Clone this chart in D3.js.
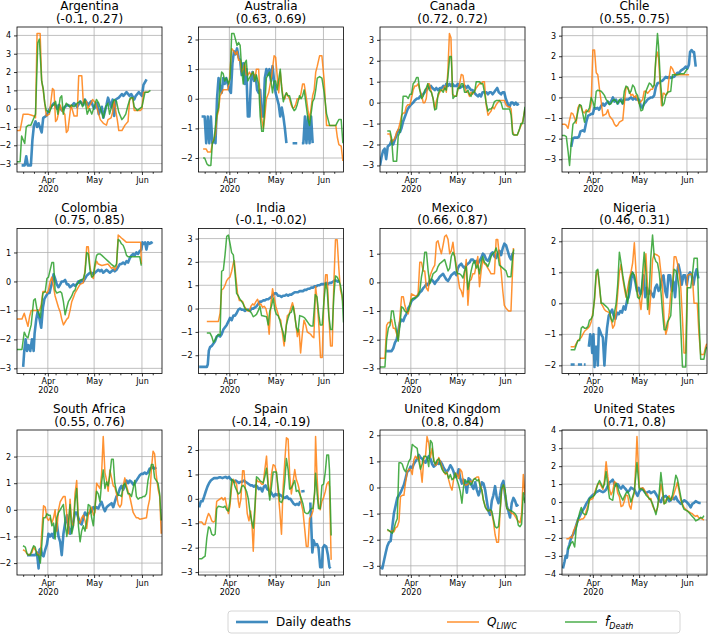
<!DOCTYPE html>
<html>
<head>
<meta charset="utf-8">
<script src="https://cdn.jsdelivr.net/npm/d3@7"></script>
<style>
body { margin: 0; background: #fff; }
svg { font-family: "DejaVu Sans", sans-serif; }
</style>
</head>
<body>
<svg id="chart" width="708" height="637"></svg>
<script>
// day = days after 1 Mar 2020, value = z-score. null marks a gap.
var countries = ["Argentina", "Australia", "Canada", "Chile", "Colombia", "India", "Mexico", "Nigeria",
    "South Africa", "Spain", "United Kingdom", "United States"]
var corrLabels = ["(-0.1, 0.27)", "(0.63, 0.69)", "(0.72, 0.72)", "(0.55, 0.75)", "(0.75, 0.85)", "(-0.1, -0.02)",
    "(0.66, 0.87)", "(0.46, 0.31)", "(0.55, 0.76)", "(-0.14, -0.19)", "(0.8, 0.84)", "(0.71, 0.8)"]
var xStartDay = 11, xEndDay = 105

var argentinaDeaths = [[14,-3.1],[16,-3.1],[17,-2.6],[18,-3.1],[20,-3.1],[21,-1.7],[22,-0.9],[23,-0.7],[24,-1.0],[25,-0.8],[27,-1.3],[28,-0.5],[30,-0.4],[31,-0.2],[33,0.1],[35,0.3],[37,0],[38,0.2],[40,-0.1],[42,0.1],[44,0.2],[46,0.1],[48,0.3],[50,0.1],[52,0.4],[54,0.2],[55,0.5],[57,0.2],[59,0.4],[61,0],[63,0.3],[64,-0.3],[66,0.1],[67,-0.5],[69,0.2],[70,0.6],[72,0.1],[73,0.5],[74,-0.4],[75,0.5],[77,0.6],[79,0.8],[80,0.7],[82,0.9],[84,0.7],[85,0.8],[87,0.5],[88,0.7],[90,0.9],[92,0.7],[93,1.3],[95,1.6]]
var argentinaLiwc = [[11,-1.2],[13,-1.2],[15,-0.3],[18,-0.3],[20,-0.35],[22,-0.4],[23,-0.5],[24,4.1],[26,4.1],[27,1.5],[28,1.0],[29,0.3],[30,-0.4],[32,-0.3],[34,1.1],[35,1.0],[36,-0.7],[37,-0.6],[39,0.2],[40,-0.1],[42,-0.3],[43,-1.3],[44,-1.2],[46,0.2],[48,-0.4],[50,-0.4],[51,1.8],[53,1.8],[54,0.3],[56,0.4],[57,0],[59,0.3],[60,0.5],[62,0.3],[64,-0.3],[65,-0.6],[67,-0.8],[69,-0.9],[70,-0.6],[72,-0.5],[73,-0.2],[74,0.4],[76,-0.6],[77,-1.2],[79,-1.2],[81,-0.9],[83,-0.7],[84,0.5],[86,0.6],[87,-0.1],[91,-0.1],[92,0],[93,0.9],[96,0.9]]
var argentinaFdeath = [[11,-2.9],[13,-2.9],[14,-1.5],[16,-1.9],[17,-1.0],[18.5,-0.9],[20,-0.9],[22,-0.5],[23,-0.3],[24.5,3.6],[25.5,3.8],[27,1.5],[28,1.1],[29,0.3],[30,-0.1],[32,-0.2],[34,0.2],[35,0.2],[36,0.4],[37.5,-0.3],[39,0.6],[40,0.7],[41,-0.3],[42,0.1],[43,0.3],[45,0.1],[46.5,0.2],[48,0.1],[50,0.3],[52,0.4],[53.5,0.1],[55,0.5],[56.5,-0.3],[58,0],[59.5,-0.3],[61,0.1],[62.5,0.5],[64,0.3],[65.5,-0.1],[67,-0.5],[68.5,0.1],[70,0.3],[71,-0.3],[73,0.3],[74,0.5],[75.5,0.4],[77,-0.2],[79,-0.6],[80,-0.5],[81.5,-0.3],[83,0.2],[84.5,0.6],[86,0.6],[87,0.1],[89,-0.1],[90.5,0],[92,0.1],[94,0.9],[96,0.9],[97.5,1.0]]

var australiaDeaths = [[13,-0.6],[15,-0.6],[16,-1.5],[17,-0.6],[18,-1.5],[19,-0.6],[20,-1.5],[21,-1.4],[22,-1.5],[23,0],[24,0.7],[25,0.4],[26,0.2],[27,0.7],[28,0.5],[29,0.7],[30,0.5],[31,0.3],[32,0.2],[33,1.2],[34,1.6],[35,1.5],[36,1.7],[37,1.4],[38,1.3],[39,0.8],[40,1.2],[41,0.5],[42,1.0],[43,-0.6],[44,-0.6],[45,0.6],[46,0.9],[47,0.6],[48,0.8],[49,0.3],[50,0.2],[51,0.3],[52,-0.6],[53,-0.6],[54,0.7],[55,1.0],[56,0.8],[57,1.0],[58,0.6],[59,1.1],[60,0.6],[61,0.2],[62,0],[63,-0.2],[64,-0.6],[65,-0.3],[66,-0.6],[67,-1.0],[68,-1.5],[69,null],[72,-1.5],[75,-1.5],[76,null],[78,-1.5],[79,-1.5],[80,-0.6],[81,-1.5],[82,-0.6],[83,-1.5],[84,-0.6],[85,-1.5]]
var australiaLiwc = [[14,-1.7],[16,-1.7],[17,-1.8],[19,-1.8],[20,-1.5],[22,-1.2],[23,-0.6],[24,-0.4],[25,0.1],[27,0.3],[30,0.3],[31,0.6],[32.5,1.7],[34,1.6],[35,1.5],[36,1.6],[37,1.3],[38,1.3],[39,0.9],[40,1.0],[41,1.2],[42,0.8],[43,0.8],[44,0.9],[45,0.8],[46.5,0.9],[47.5,0.6],[48.5,1.0],[50,1.0],[51,-0.1],[52,-0.7],[53,-1.0],[54,-0.6],[55,0],[56.5,0.2],[57.5,0.5],[58.5,0.8],[60,1.45],[61,1.4],[62,0.8],[63,0.2],[64,0.9],[65,0.4],[66,0],[67,0],[68,0.2],[69,0.1],[70,0],[71,-0.2],[72,-0.3],[73,-0.3],[74,-0.2],[75,0],[76.5,0],[77.5,0.2],[78.5,0.5],[79.5,0.5],[81,0],[82,-0.4],[83,-0.7],[84,-0.3],[85,0.1],[86,0.3],[87,0.9],[88,1.1],[89.5,1.45],[91,1.45],[92.5,0.6],[94,-0.9],[100,-0.9],[101,-1.3],[102,-1.55],[103.5,-1.6],[104.6,-2.1]]
var australiaFdeath = [[14,-2.0],[15,-2.0],[16.5,-2.2],[17.5,-2.25],[19,-2.25],[20,-1.5],[21,-1.4],[23,-0.5],[24,-0.3],[25,0.5],[26,0.9],[27,0.85],[28,0.6],[29,0.7],[30.5,0.5],[31.5,0.7],[32.5,2.2],[34,2.2],[35,2.0],[36,1.8],[37,1.9],[38,1.8],[39,1.0],[40,0.5],[41,1.2],[42,1.3],[43,0.6],[44,0.7],[45,0.8],[46.5,0.9],[47.5,0.6],[48.5,0.8],[50,0.5],[51,-0.6],[52,-1.1],[53,-1.1],[54,-0.2],[55,0.7],[56,0.8],[57,0.9],[58,0.6],[59,0.2],[60,0.6],[61,0.6],[62,0.3],[64,1.0],[65,0.3],[66,-0.1],[67,0.1],[68,0.2],[69,0.1],[70,0.1],[71,-0.1],[72,-0.3],[73,-0.4],[74,-0.35],[75,-0.2],[76.5,0.1],[77.5,0],[78.5,0.1],[79.5,0.3],[81,-0.3],[82,-0.7],[83,-0.9],[84,-0.5],[85,-0.1],[86,0],[87,0.3],[88,0.7],[89.5,0.75],[91,0.7],[92.5,0.2],[94,-0.5],[96,-0.9],[100,-0.9],[101,-0.8],[102,-0.7],[103.5,-0.7],[104.6,-1.5]]

var canadaDeaths = [[11,-3.0],[12,-2.6],[13,-2.3],[14,-2.2],[15,-2.7],[16,-2.1],[17.5,-2.0],[18.5,-1.8],[19.5,-2.0],[20.5,-1.8],[22,-1.5],[23,-1.3],[24,-1.4],[25,-1.2],[26,-0.9],[27,-0.7],[28,-0.5],[29,-0.3],[30,-0.2],[31,-0.1],[32.5,0],[33.5,0.1],[35,0.2],[36,0.2],[37,0.3],[39,0.4],[40,0.5],[41,0.6],[42,0.7],[43,0.7],[44,0.8],[45,0.7],[46.5,0.6],[47.5,0.7],[48.5,0.6],[50,0.7],[51,0.7],[52,0.8],[53,0.7],[54,0.9],[55,0.8],[56,0.9],[57,0.8],[58,0.9],[59,0.8],[60.5,0.8],[61.5,0.9],[62.5,0.7],[65,0.8],[66,0.8],[67,0.7],[68,0.8],[69,0.7],[70,0.6],[71,0.6],[72,0.5],[73,0.4],[74.5,0.3],[75.5,0.4],[76.5,0.3],[77.5,0.5],[79,0.5],[80,0.5],[81,0.4],[82,0.5],[83,0.5],[84,0.4],[85,0.5],[86,0.6],[87,0.7],[88,0.5],[89.5,0.4],[90.5,0.5],[91.5,0.5],[92.5,0.2],[94,-0.1],[95,-0.2],[96,0],[97,0],[98,-0.1],[99,0],[100,-0.1],[101,-0.05]]
var canadaLiwc = [[15.7,-1.5],[17.5,-1.5],[18.5,-1.9],[19.6,-1.8],[20.7,-1.7],[21.8,-1.4],[22.8,-1.3],[23.9,-1.0],[25,-0.6],[26,-0.5],[27,-0.5],[28,-0.2],[29,-0.1],[30.4,-0.1],[31.4,0.2],[32.5,0.6],[33.6,0.8],[34.7,0.8],[35.7,0.9],[36.8,0.6],[37.9,0.4],[39,0],[40,0],[41,0.2],[42,0.9],[43,0.9],[44,0.6],[45.4,0.2],[46.5,-0.3],[47.6,0.1],[48.6,0.3],[49.7,0.5],[50.8,0.6],[52,0.6],[53,0.8],[54,0.5],[55,1.5],[56,3.3],[57,3.1],[58,0.4],[59.4,0.3],[60.5,0.3],[61.5,0.6],[62.6,0.9],[63.7,1.35],[64.8,1.3],[65.8,0.8],[67,0.5],[68,0.5],[69,0.3],[70,0.5],[71,0.4],[72,0.5],[73.4,0.7],[74.4,0.8],[75.5,0.9],[76.6,0.9],[77.7,1.0],[78.7,1.0],[79.8,-0.1],[81,-0.6],[82,-0.5],[83,-0.4],[84,-0.2],[85,-0.3],[86.3,-0.1],[87.3,0],[88.4,0.1],[91.6,0.1],[92.7,-0.1],[93.8,-0.2],[95,-0.2],[96,-0.3],[97,-1.4],[98,-1.55],[100,-1.55],[101.3,-1.3],[102.4,-1.1],[103.5,-0.9],[105,-0.3]]
var canadaFdeath = [[15.7,-1.35],[17.5,-1.35],[18.5,-1.7],[19.6,-2.8],[21.8,-2.8],[22.8,-1.6],[23.9,-1.4],[25,-0.8],[26,0.3],[28.2,0.3],[29.3,0.2],[30.4,0.4],[31.4,0.4],[32.5,0.9],[33.6,1.0],[34.7,1.2],[35.7,1.2],[36.8,0.6],[37.9,0.2],[39,0.3],[40,0.6],[41,0.7],[42,0.9],[43,0.6],[44.3,0.5],[45.4,0.2],[46.5,-0.35],[47.6,-0.3],[48.6,0.4],[49.7,0.6],[50.8,0.6],[52,0.5],[53,0.7],[54,0.6],[55,1.2],[56.2,2.2],[57.2,2.2],[58.3,0.2],[59.4,0.3],[60.5,0.3],[61.5,0.7],[62.6,0.7],[63.7,0.9],[64.8,0.9],[65.8,0.5],[67,0.5],[68,0.6],[69,0.4],[70,0.3],[71,0.5],[72.3,0.5],[73.4,1.0],[75.5,1.0],[76.6,0.9],[77.7,0.9],[78.7,0.5],[79.8,0],[81,-0.4],[82,-0.3],[83,-0.3],[84,-0.2],[85.2,0.05],[86.3,0.1],[88.4,0.1],[89.5,0],[90.6,-0.3],[95,-0.3],[96,-0.6],[97,-1.5],[98,-1.55],[100,-1.55],[101.3,-1.3],[102.4,-1.0],[103.5,-1.0],[105,-0.2]]

var chileDeaths = [[17,-2.4],[18,-2.0],[19,-1.95],[21,-1.95],[22,-1.9],[23,-1.65],[24.5,-1.6],[25.5,-1.65],[26.7,-1.2],[27.8,-0.9],[29,-0.85],[30,-0.8],[31,-0.8],[32,-0.5],[33,-0.55],[34,-0.5],[35,-0.6],[36.5,-0.4],[37.5,-0.3],[38.5,-0.4],[39.5,-0.3],[40.7,-0.2],[41.7,-0.3],[42.8,-0.2],[44,0],[45,-0.2],[46,-0.1],[47,-0.3],[48,-0.2],[49.3,-0.1],[50.3,-0.3],[51.4,-0.1],[54,-0.1],[55.7,0],[57,-0.1],[58,0],[59,-0.1],[61,-0.1],[62,-0.4],[63,-0.5],[64.3,-0.3],[65.5,-0.2],[66.5,-0.1],[68.6,0],[69.7,0],[70.8,0.1],[71.8,0.5],[73,0.7],[74,0.7],[75,0.8],[76,0.8],[77.2,0.9],[78.3,1.0],[79.4,0.95],[80.5,1.0],[81.5,0.95],[83.7,1.0],[84.7,1.1],[85.8,1.2],[87,1.2],[88,1.3],[89,1.35],[90,1.4],[91.2,1.5],[92.3,1.4],[93.3,1.6],[94,2.2],[95,2.3],[96,2.2],[96.6,2.2],[97.7,1.5]]
var chileLiwc = [[11,-1.3],[12.7,-1.3],[13.8,-1.35],[14.9,-1.5],[15.9,-1.1],[17,-0.75],[18.1,-0.8],[19.2,-1.0],[20.2,-1.25],[21.3,-0.5],[22.4,-0.35],[23.5,-0.5],[24.5,-0.7],[25.6,-0.75],[26.7,-0.6],[27.8,-0.7],[28.8,-0.7],[29.9,-0.3],[31,2.3],[32.1,2.3],[33.2,1.2],[34.2,1.1],[35.3,0.4],[36.4,-0.2],[37.5,-0.9],[38.5,-0.85],[39.6,-0.8],[40.7,-0.6],[41.8,-0.9],[42.8,-1.0],[43.9,-1.1],[45,-1.3],[46.1,-1.4],[47.1,-1.35],[48.2,-1.2],[49.3,-1.15],[50.4,-1.1],[51.4,-0.3],[52.5,0.5],[53.6,0.45],[54.7,0.3],[55.7,0.1],[56.8,0.15],[57.9,0],[59,0.1],[60,-0.1],[61.1,-0.3],[62.2,-0.2],[63.3,-0.1],[64.3,0.3],[65.4,0.3],[66.5,0.2],[67.6,0.3],[68.6,0.4],[69.7,0.4],[70.8,0.6],[71.9,1.9],[72.9,2.2],[73.6,1.9],[74.7,0.5],[75.5,-0.4],[76.6,0.2],[77.2,0.2],[78.3,0.1],[79.4,0.2],[80.5,1.0],[81.5,1.5],[82.6,1.4],[83.7,1.2],[84.8,1.1],[93.4,1.1]]
var chileFdeath = [[11,-1.85],[12.7,-1.85],[13.8,-1.9],[14.9,-2.6],[15.9,-3.3],[17,-2.2],[18.1,-1.3],[19.2,-1.2],[20.2,-1.1],[21.3,-0.7],[22.4,-0.35],[23.5,-0.4],[24.5,-0.8],[25.6,-1.2],[26.7,-0.7],[27.8,-0.65],[28.8,-0.5],[29.9,0],[31,-0.2],[32.1,-0.5],[33.2,0.3],[34.2,0.35],[36.4,0.3],[37.5,0.2],[38.5,0.1],[39.6,-0.1],[40.7,-0.2],[41.8,-0.35],[42.8,-0.3],[43.9,-0.15],[45,-0.1],[46.1,-0.2],[47.1,-0.3],[48.2,-0.1],[49.3,-0.2],[50.4,-0.3],[51.4,0.3],[52.5,0.55],[53.6,0.5],[54.7,0.2],[55.7,0.3],[56.8,0.6],[57.9,0.5],[59,0.2],[60,0.1],[61.1,-0.3],[62.2,-0.65],[63.3,-0.6],[64.3,-0.2],[65.4,0.3],[66.5,0.5],[67.6,0.7],[68.6,0.65],[69.7,0.5],[70.8,0.6],[71.9,2.0],[72.9,3.1],[73.6,2.5],[74.7,0.9],[75.5,0.2],[76.2,-0.4],[77.2,-0.3],[78.3,0.1],[79.4,0.25],[81.5,0.3],[82.6,1.1],[85.8,1.1],[88,1.15],[90.1,1.15],[92.3,1.4]]

var colombiaDeaths = [[15,-2.95],[15.7,-2.4],[16.6,-2.0],[17.5,-2.4],[18.5,-2.2],[19.6,-2.4],[20.7,-2.0],[21.8,-2.4],[22.4,-1.8],[23.5,-1.3],[24.5,-1.0],[25.6,-1.3],[26.7,-1.6],[27.8,-0.9],[28.8,-0.6],[29.9,-0.5],[31,-0.4],[32.1,-0.4],[32.9,-0.2],[34,0],[34.7,0.25],[35.7,0.1],[36.8,-0.1],[37.9,-0.2],[39,-0.1],[40,0],[41.1,0],[42.2,0.05],[43.3,-0.1],[44.3,-0.1],[45.4,-0.2],[46.5,-0.15],[47.6,-0.1],[48.6,-0.15],[49.7,-0.1],[50.8,0],[51.9,-0.05],[52.9,0.05],[54,0],[55.1,0.1],[56.2,0.2],[57.2,0.25],[58.3,0.3],[59.4,0.3],[60.5,0.25],[61.5,0.3],[62.6,0.35],[63.7,0.4],[64.8,0.35],[65.8,0.4],[66.9,0.3],[68,0.35],[69.1,0.4],[70.1,0.35],[71.2,0.3],[72.3,0.35],[73.4,0.4],[74.4,0.35],[75.5,0.4],[76.6,0.5],[77.7,0.6],[78.7,0.6],[79.8,0.65],[80.9,0.6],[82,0.7],[83,0.65],[84.1,0.8],[85.2,0.9],[86.3,0.95],[87.3,0.9],[88.4,1.0],[89.5,0.95],[90.6,1.05],[91.6,1.1],[92.3,1.35],[93.2,1.3],[94,1.35],[94.9,1.1],[95.9,1.35],[97,1.3],[98.1,1.35],[98.7,1.3]]
var colombiaLiwc = [[11,-1.3],[14.2,-1.3],[15.7,-1.1],[17,-1.35],[18.1,-1.55],[19.2,-1.2],[20.2,-1.0],[25.6,-1.0],[26.7,-0.8],[27.8,-0.35],[29.3,-0.35],[30.4,-0.4],[31.4,-0.3],[32.5,0],[33.6,0.15],[34.7,-0.2],[35.7,-0.5],[36.8,-0.7],[37.9,-0.9],[39,-1.05],[40,-1.3],[41.1,-1.5],[42.2,-1.4],[43.3,-1.3],[44.3,-1.25],[45.4,-1.0],[46.5,-0.7],[47.6,-0.55],[48.6,-0.4],[49.7,-0.3],[50.8,-0.2],[51.9,-0.1],[54,-0.05],[55.1,0.4],[56.2,1.2],[57.2,1.2],[58.3,0.5],[59.4,0.2],[60.5,0.1],[61.5,0.5],[62.6,0.7],[63.7,0.6],[66,0.55],[70,0.6],[72.3,0.45],[73.4,0.5],[74.4,0.4],[75.5,0.5],[76.6,1.6],[77.7,1.55],[78.7,1.5],[79.8,1.45],[80.9,1.4],[82,1.35],[91.2,1.35],[91.6,0.6]]
var colombiaFdeath = [[11,-2.35],[14.2,-2.35],[15.7,-1.75],[17,-1.9],[18.1,-1.95],[19.2,-1.7],[20.2,-1.5],[21.8,-0.65],[22.8,-0.6],[23.9,-0.95],[25,-1.1],[26.1,-1.25],[27.8,-0.4],[29.3,-0.35],[30.4,0.1],[31.4,0.15],[32.5,0.4],[33.6,0.65],[34.7,0.65],[35.7,-0.3],[36.8,-0.4],[39,-0.35],[40,-0.4],[41.1,-0.7],[42.2,-1.15],[43.3,-0.9],[44.3,-0.7],[45.4,-0.6],[46.5,-0.5],[47.6,-0.35],[48.6,-0.3],[49.7,-0.1],[50.8,-0.05],[51.9,0.05],[52.9,0.05],[54,0.1],[55.1,0.3],[56.2,1.0],[57.2,0.95],[58.3,0.4],[59.4,0.15],[60.5,0.2],[61.5,0.6],[62.6,0.9],[63.7,0.95],[64.8,0.95],[66,0.9],[68,0.8],[70,0.7],[72,0.6],[74.4,0.5],[75.5,0.6],[76.6,1.45],[77.7,1.4],[78.7,1.3],[79.8,1.25],[80.9,1.1],[82,0.9],[83,0.85],[90.6,0.85],[91.6,0.55]]

var indiaDeaths = [[11.4,-2.5],[16.4,-2.5],[17,-2.4],[17.7,-1.8],[18.5,-1.65],[19.6,-1.6],[20.7,-1.5],[21.7,-1.4],[22.8,-1.2],[24,-1.15],[25,-1.2],[26,-1.1],[27.1,-0.9],[28.2,-0.8],[29.3,-0.7],[30.4,-0.55],[31.4,-0.4],[32.5,-0.5],[33.6,-0.3],[34.7,-0.3],[35.7,-0.2],[36.8,-0.05],[37.9,0],[39,-0.05],[40,-0.05],[41.1,-0.1],[42.2,-0.05],[43.3,-0.05],[44.3,-0.1],[45.4,0],[46.5,0],[47.6,0.05],[48.6,0.1],[49.7,0.2],[50.8,0.3],[51.9,0.3],[52.9,0.35],[54,0.35],[55.1,0.4],[56.2,0.4],[57.2,0.45],[58.3,0.5],[59.4,0.6],[60.5,0.65],[61.5,0.65],[62.6,0.55],[63.7,0.55],[64.8,0.5],[65.8,0.55],[66.9,0.55],[68,0.6],[69.1,0.55],[70.1,0.6],[71.2,0.6],[72.3,0.65],[73.4,0.7],[75.5,0.7],[76.6,0.75],[78.7,0.75],[79.8,0.8],[80.9,0.8],[82,0.85],[83,0.85],[84.1,0.9],[85.2,0.9],[86.3,0.95],[87.3,0.95],[88.4,1.0],[89.5,1.0],[90.6,1.05],[92.7,1.05],[93.8,1.1],[94.9,1.05],[95.9,1.1],[97,1.1],[98.1,1.15],[99.2,1.2],[100.2,1.2],[101.3,1.15],[102.4,1.2]]
var indiaLiwc = [[16.4,-0.55],[23.9,-0.55],[25,-0.2],[26,0.8],[27.1,0.85],[28.2,1.0],[29.3,1.2],[30.4,1.3],[31.4,1.35],[32.5,1.6],[33.6,1.95],[34.2,2.05],[35.3,1.3],[36.4,0.6],[37.5,0.35],[38.5,0.35],[39.6,0.3],[40.7,0.1],[41.8,0],[42.8,-0.1],[43.9,-0.1],[45,0.1],[46.1,0.2],[47.1,0.15],[48.2,0.3],[49.3,0.4],[50.4,0.15],[51.4,0.2],[52.5,0.05],[53.6,0.1],[54.7,0],[55.7,-0.3],[56.8,-1.1],[57.9,0.2],[59,0.85],[60,0.5],[61.1,0.1],[62.2,-0.15],[63.3,-0.4],[64.3,-0.5],[65.4,-1.05],[66.5,-1.6],[67.6,-0.9],[68.6,-0.3],[69.7,-0.25],[70.8,0],[71.9,0.25],[72.9,0],[74,-0.6],[75.1,-1.2],[76.2,-0.9],[77.2,-1.9],[78.3,-1.1],[79.4,-0.5],[80.5,-0.7],[81.5,-1.0],[82.6,-1.05],[83.7,-1.1],[84.8,-1.2],[85.8,-1.25],[86.9,0.95],[88,0.3],[89.1,-0.8],[90.1,-2.1],[91.2,-2.1],[92.3,0.4],[93.4,1.45],[94.4,1.45],[95.5,-0.3],[96.6,-1.6],[97.7,-1.6],[98.7,1.0],[99.8,2.95],[100.9,2.95],[102,1.7],[103,0.8],[104.1,0.5],[105,0.1]]
var indiaFdeath = [[16.4,-1.05],[18.5,-1.05],[19.6,-1.2],[20.7,-1.45],[21.7,-1.35],[22.8,-1.2],[23.9,-1.1],[25,-1.15],[26,1.6],[27.1,1.65],[28.2,2.3],[29.3,3.1],[30.4,3.15],[31.4,2.8],[32.5,2.4],[33.6,2.3],[34.7,1.5],[35.7,0.65],[36.8,0.55],[37.9,0.4],[39,0.3],[40,0.2],[41.1,0],[42.2,-0.05],[44.3,-0.1],[45.4,-0.2],[46.5,-0.35],[47.6,-0.3],[48.6,-0.25],[49.7,-0.1],[50.8,0.1],[51.9,-0.3],[55.1,-0.35],[56.2,-0.7],[57.2,-0.1],[58.3,0.1],[59.4,0.45],[60.5,-0.05],[61.5,-0.25],[62.6,-0.3],[63.7,-0.5],[64.8,-0.8],[65.8,-1.0],[66.9,-1.4],[68,-0.7],[69.1,-0.4],[70.1,-0.2],[71.2,-0.15],[72.3,0.1],[73.4,-0.3],[74.4,-0.8],[75.5,-1.0],[76.6,-0.3],[78.7,-0.35],[79.8,-0.4],[80.9,-0.5],[82,-0.6],[83,-0.7],[84.1,-0.75],[85.2,-0.75],[86.7,0.6],[87.8,0.5],[88.9,-0.2],[89.9,-0.7],[91.2,-0.7],[92.3,0.3],[93.4,1.1],[94.4,0.8],[95.5,-0.3],[96.6,-0.9],[97.7,-0.9],[98.7,0.5],[99.8,1.4],[100.9,1.35],[102,1.2],[103,1.0],[104.1,0.6],[105,-0.6]]

var mexicoDeaths = [[15,-2.4],[18.5,-2.4],[19.6,-2.3],[20.7,-2.1],[21.8,-2.0],[22.8,-1.7],[23.9,-1.4],[25,-1.3],[26.1,-1.35],[27.1,-1.2],[28.2,-1.1],[29.3,-0.9],[30.4,-0.8],[31.4,-0.65],[32.5,-0.6],[33.6,-0.55],[34.7,-0.5],[35.7,-0.45],[36.8,-0.35],[37.9,-0.3],[39,-0.2],[40,-0.15],[41.1,-0.05],[42.2,-0.1],[43.3,0.05],[44.3,0.1],[45.4,0.05],[46.5,-0.05],[47.6,0.05],[48.6,0.1],[49.7,0.2],[50.8,0.25],[51.9,0.3],[52.9,0.2],[54,0.1],[55.1,0.05],[56.2,0.15],[57.2,0.25],[58.3,0.3],[59.4,0.35],[60.5,0.25],[61.5,0.5],[62.6,0.6],[63.7,0.65],[64.8,0.55],[65.8,0.5],[66.9,0.6],[68,0.65],[69.1,0.7],[70.1,0.8],[71.2,0.8],[72.3,0.7],[73.4,0.75],[74.4,0.65],[75.5,0.75],[76.6,0.85],[77.7,1.0],[78.7,0.95],[79.8,0.8],[80.9,0.75],[82,0.85],[83,1.0],[84.1,1.05],[85.2,0.9],[86.3,0.85],[87.3,1.0],[88.4,1.1],[89.5,0.95],[90.6,1.2],[91.6,1.35],[92.7,1.3],[93.8,1.1],[94.9,0.9],[95.9,0.8],[97,1.0],[97.7,1.05]]
var mexicoLiwc = [[11,-2.65],[14.2,-2.65],[15.3,-1.5],[16.4,-1.4],[17.5,-1.4],[18.5,-1.3],[19.6,-1.6],[20.7,-1.6],[21.8,-1.8],[22.8,-2.0],[23.9,-1.2],[25,-0.5],[26.1,-0.5],[27.1,-0.8],[28.2,-1.0],[29.3,-1.1],[30.4,-0.8],[31.4,-0.4],[34.7,-0.5],[35.7,-0.4],[36.8,0.7],[37.9,0.7],[39,0.4],[40,0.4],[41.1,-0.2],[42.2,-0.3],[43.3,0.2],[44.3,0.35],[45.4,0.5],[46.5,0.6],[47.6,1.4],[48.6,1.45],[49.7,1.2],[50.8,1.0],[51.9,1.3],[52.9,1.6],[54,1.65],[55.1,1.5],[56.2,1.0],[57.2,1.1],[58.3,1.4],[59.4,0.9],[60.5,0.6],[61.5,0.2],[62.6,-0.2],[63.7,-0.3],[64.8,-0.5],[65.8,0.2],[66.9,0.8],[68,-0.8],[69.1,0.05],[70.1,0.1],[71.2,0.3],[72.3,0.3],[73.4,0.6],[74.4,0.9],[75.5,-0.15],[76.6,0.4],[77.7,0.8],[78.7,0.65],[79.8,0.6],[80.9,0.5],[82,0.4],[83,0.3],[85.2,0.3],[86.3,1.5],[87.3,1.5],[88.4,0.9],[89.5,0.4],[90.6,-0.3],[91.6,-0.8],[92.7,-0.9],[94.4,-1.0],[95.9,-1.0],[97.5,1.2]]
var mexicoFdeath = [[11,-2.95],[14.2,-2.95],[15.3,-2.0],[16.4,-1.6],[17.5,-1.5],[18.5,-1.0],[19.6,-1.0],[20.7,-1.4],[21.8,-1.7],[22.8,-2.05],[23.9,-1.5],[25,-0.85],[26.1,-0.9],[27.1,-1.0],[28.2,-1.05],[29.3,-1.0],[30.4,-0.8],[31.4,-0.6],[32.5,-0.55],[33.6,-0.55],[34.7,-0.5],[35.7,-0.45],[36.8,-0.3],[37.9,0.2],[39,0.5],[40,1.05],[41.1,1.05],[42.2,0.4],[43.3,-0.05],[44.3,0.1],[45.4,0.3],[46.5,0.35],[47.6,0.4],[48.6,0.55],[49.7,0.65],[50.8,0.7],[51.9,0.75],[52.9,0.8],[54,0.6],[55.1,0.4],[56.2,0.5],[57.2,0.9],[58.3,1.05],[59.4,0.9],[60.5,0.4],[61.5,0.3],[62.6,0.3],[63.7,0.25],[64.8,0.15],[65.8,0.4],[66.9,0.55],[68,-0.25],[69.1,0.1],[70.1,0.4],[71.2,0.65],[72.3,0.75],[73.4,0.5],[74.4,0.6],[75.5,0.3],[76.6,0.7],[77.7,0.9],[78.7,0.7],[79.8,0.65],[80.9,0.55],[82,0.7],[83,0.9],[84.1,1.0],[85.2,1.05],[86.3,1.2],[87.3,1.0],[88.4,0.6],[92.7,0.4],[93.8,0.2],[95.9,0.2],[97,0.9],[97.7,1.15]]

var nigeriaDeaths = [[16.6,-1.97],[19.2,-1.97],[19.3,null],[21.3,-1.97],[24,-1.97],[24.1,null],[25.2,-1.97],[26.3,-1.97],[26.4,null],[28.4,-1.4],[29.3,-1.0],[29.9,-1.1],[30.6,-1.6],[31.4,-1.0],[32.1,-2.05],[32.7,-1.4],[33.6,-1.4],[34.2,-2.0],[34.9,-0.8],[35.7,-0.9],[36.4,-1.0],[37.5,-1.1],[38.5,-2.0],[39.2,-1.4],[40.2,-0.8],[41.3,-0.4],[42.4,-0.3],[43.5,-0.2],[44.5,-0.4],[45.6,-0.5],[46.7,-0.3],[47.8,-0.35],[48.8,-0.25],[49.9,-0.3],[51,-0.1],[52.1,-0.2],[53.2,0.1],[54.2,0.2],[55.3,0.5],[56.4,1.0],[57.5,0.9],[58.5,0.7],[59.6,0.4],[60.7,0.5],[61.8,0.3],[62.8,0.4],[63.9,0.9],[65,0.2],[66.1,0.5],[67.1,0.3],[68.2,0.4],[69.3,0.3],[70.4,0.2],[71.4,0.5],[72.5,0.6],[73.6,0.4],[74.7,0.5],[75.7,0.8],[76.8,0.9],[77.9,0.4],[79,0.2],[80,0.9],[81.1,0.9],[82.2,0.4],[83.3,0.7],[84.3,0.2],[85.4,0.9],[86.5,1.25],[87.6,1.0],[88.6,0.6],[89.7,0.9],[90.8,0.9],[91.9,0.6],[92.9,0.9],[94,1.0],[95.1,0.9],[96.2,0.6],[97.2,0.9],[98.3,1.1],[99.4,0.8]]
var nigeriaLiwc = [[16.6,-1.4],[19.2,-1.4],[20.2,-1.3],[21.3,-1.2],[22.4,-1.15],[23.5,-1.1],[24.5,-1.0],[25.6,-0.9],[26.7,-0.85],[27.8,-0.8],[28.8,-0.75],[29.9,-0.6],[31,-0.3],[32.1,0.1],[33.2,0.9],[34.2,1.05],[35.3,0.5],[36.4,0],[37.5,-0.1],[38.5,-0.2],[39.6,-0.25],[41.8,-0.3],[42.8,-0.5],[43.9,-0.8],[45,-0.7],[46.1,-0.3],[47.1,0.3],[48.2,1.0],[49.3,1.25],[50.4,0.8],[51.4,0.5],[52.5,0.2],[53.6,0.5],[54.7,0.8],[55.7,1.0],[56.8,1.3],[57.9,1.95],[59,1.0],[60,0.3],[61.1,0.2],[62.2,-0.2],[63.3,0.4],[64.3,1.0],[65.4,1.6],[66.5,0.5],[67.6,-0.35],[68.6,0.3],[69.7,1.4],[70.8,1.6],[72.9,1.55],[74,1.5],[75.1,1.0],[76.2,0.5],[77.2,-0.5],[78.3,-1.0],[79.4,-0.8],[80.5,-0.3],[81.5,0.3],[82.6,0.6],[83.7,1.5],[84.8,1.5],[85.8,1.3],[86.9,1.0],[88,0.5],[89.1,-0.5],[90.1,-1.6],[91.2,-1.6],[92.3,0.9],[94.4,0.95],[95.5,0.9],[96.6,0],[98.7,0],[99.8,-1.0],[100.9,-1.65],[103,-1.65],[104.1,-1.4],[104.8,-1.3]]
var nigeriaFdeath = [[16.6,-1.5],[19.2,-1.5],[20.2,-1.35],[21.3,-1.2],[22.4,-1.2],[23.5,-0.8],[24.5,-0.75],[25.6,-0.8],[26.7,-0.8],[27.8,-0.75],[28.8,-0.55],[29.9,-0.5],[31,-0.4],[32.1,0.2],[33.2,1.05],[34.2,1.1],[35.3,0.6],[36.4,0],[37.5,0],[38.5,-0.05],[39.6,-0.1],[40.7,-0.15],[41.8,-0.25],[42.8,-0.5],[43.9,-0.6],[45,-0.3],[46.1,0],[47.1,0.6],[48.2,1.65],[49.3,1.3],[50.4,0.9],[51.4,0.6],[52.5,0.3],[53.6,0],[54.7,0.7],[55.7,0.9],[56.8,1.0],[57.9,0.9],[59,0.6],[60,0.2],[61.1,0.15],[62.2,0.3],[63.3,1.0],[64.3,1.65],[65.4,1.0],[66.5,-0.2],[67.6,0.4],[68.6,1.5],[69.7,2.2],[70.8,1.5],[71.9,1.35],[72.9,1.3],[74,1.0],[75.1,0.4],[76.2,-0.3],[77.2,-0.85],[78.3,-0.85],[79.4,-0.6],[80.5,-0.5],[81.5,-0.4],[82.6,0.5],[83.7,1.1],[84.8,1.05],[85.8,0.9],[86.9,0.5],[88,-0.8],[89.1,-2.05],[91.2,-2.05],[92.3,0.5],[94.4,0.5],[95.5,0.9],[96.6,1.45],[98.7,1.45],[99.8,-0.5],[100.9,-1.8],[103,-1.8],[104.1,-1.5],[104.8,-1.4]]

var southAfricaDeaths = [[17.5,-1.7],[22.8,-1.7],[23.9,-1.6],[25,-2.2],[25.6,-1.5],[26.5,-1.45],[27.3,-1.7],[28.2,-1.75],[29.3,-1.5],[30.4,-1.3],[31.4,-0.9],[32.5,-1.0],[33.6,-0.9],[34.7,-1.05],[35.7,-0.7],[36.8,-0.5],[37.9,-1.0],[39,-1.2],[40,-1.7],[41.1,-0.9],[42.2,-0.5],[43.3,-0.2],[44.3,-0.6],[45.4,-0.9],[46.5,-0.7],[47.6,-0.4],[48.6,-0.1],[49.7,-0.1],[50.8,-0.3],[51.9,-0.5],[52.9,-0.55],[54,-0.3],[55.1,-0.1],[56.2,-0.2],[57.2,-0.15],[58.3,-0.1],[59.4,-0.05],[60.5,0.1],[61.5,0.05],[62.6,0.1],[63.7,0.05],[64.8,0.2],[65.8,0.3],[66.9,0.1],[68,-0.05],[69.1,0.1],[70.1,0.15],[71.2,0.2],[72.3,0.25],[73.4,0.1],[74.4,0.3],[75.5,0.5],[76.6,0.6],[77.7,0.8],[78.7,0.9],[79.8,0.75],[80.9,0.9],[82,1.1],[83,1.0],[84.1,1.1],[85.2,1.05],[86.3,0.95],[87.3,1.0],[88.4,1.1],[89.5,1.2],[90.6,1.3],[91.6,1.35],[92.7,1.35],[93.8,1.4],[94.9,1.35],[95.9,1.4],[97,1.55],[98.1,1.55],[99.2,1.6],[100.2,1.55],[101.3,1.6]]
var southAfricaLiwc = [[14.9,-1.5],[16.4,-1.55],[17.5,-1.65],[18.5,-1.7],[19.6,-1.65],[20.7,-1.6],[21.8,-1.4],[22.8,-1.5],[23.9,-1.6],[25,-1.7],[26.1,-1.7],[27.1,-0.8],[28.2,0.15],[29.3,0.1],[30.4,-0.3],[31.4,-0.4],[32.5,-0.3],[33.6,-0.5],[34.7,-0.3],[35.7,0],[36.8,-0.8],[37.9,0],[39,0.3],[40,0.4],[41.1,0.5],[42.2,0.5],[43.3,-0.2],[44.3,-0.9],[45.4,0.4],[46.5,-0.5],[47.6,-0.6],[48.6,0.6],[49.7,1.1],[50.8,-0.4],[51.9,-0.5],[52.9,-0.3],[54,-0.2],[55.1,-0.4],[56.2,-0.7],[57.2,-0.2],[58.3,0],[59.4,0.1],[60.5,-0.2],[61.5,-0.1],[62.6,1.0],[63.7,0.9],[64.8,0.8],[65.8,1.3],[66.9,2.75],[68,1.4],[69.1,1.1],[70.1,0.7],[71.2,1.5],[72.3,1.2],[73.4,0.9],[74.4,0.85],[75.5,0.6],[76.6,0.2],[77.7,0.1],[78.7,0.2],[79.8,0.9],[80.9,1.2],[82,0.9],[83,0.7],[84.1,0.5],[85.2,0.2],[86.3,-0.1],[87.3,-0.2],[88.4,-0.3],[89.5,-0.3],[90.6,-0.35],[94.9,-0.3],[95.9,0.1],[97,0.4],[98.1,1.5],[99.2,2.2],[100.2,2.1],[101.3,1.3],[102.4,0.8],[103.5,0.5],[104.5,-0.9]]
var southAfricaFdeath = [[14.9,-1.35],[16.4,-1.4],[17.5,-1.65],[18.5,-1.7],[19.6,-1.7],[20.7,-1.5],[21.8,-1.35],[22.8,-1.4],[23.9,-1.7],[25,-1.7],[26.1,-2.0],[27.1,-1.3],[28.2,-0.3],[29.3,-0.3],[30.4,-0.15],[31.4,-0.2],[32.5,-0.2],[33.6,-0.6],[34.7,-0.5],[35.7,-1.1],[36.8,-0.3],[37.9,-0.1],[39,0],[40,0.1],[41.1,0.2],[42.2,-0.5],[43.3,-1.0],[44.3,-0.5],[45.4,0.2],[46.5,-0.9],[47.6,-0.6],[48.6,0.3],[49.7,0.8],[50.8,-0.6],[51.9,-1.2],[52.9,-0.8],[54,-0.6],[55.1,-0.8],[56.2,-0.4],[57.2,0.2],[58.3,0.15],[59.4,-0.3],[60.5,-0.6],[61.5,0.1],[62.6,0.7],[63.7,0.6],[64.8,0.3],[65.8,1.0],[66.9,1.5],[68,0.8],[69.1,1.05],[70.1,0.9],[71.2,1.3],[72.3,1.9],[73.4,1.9],[74.4,1.0],[75.5,0.7],[76.6,0.55],[77.7,0.55],[78.7,0.5],[79.8,0.9],[80.9,1.0],[82,0.8],[83,0.6],[84.1,0.6],[85.2,0.5],[86.3,0.8],[87.3,1.1],[88.4,0.5],[89.5,0.4],[90.6,0.45],[91.6,0.45],[92.7,0.5],[93.8,0.5],[94.9,0.6],[95.9,1.1],[97,1.4],[98.1,1.7],[99.2,1.7],[100.2,1.2],[101.3,1.1],[102.4,1.0],[103.5,0.6],[104.5,-0.4]]

var spainDeaths = [[11.4,-0.35],[12.5,-0.1],[13.6,-0.1],[14.7,0.1],[15.7,0.3],[16.8,0.5],[17.9,0.65],[19,0.75],[20,0.8],[21.1,0.85],[23.3,0.85],[24.3,0.88],[25.4,0.88],[26.5,0.85],[27.6,0.88],[28.6,0.9],[29.7,0.85],[30.8,0.9],[31.9,0.8],[32.9,0.75],[34,0.7],[35.1,0.75],[36.2,0.7],[37.2,0.65],[38.3,0.7],[39.4,0.7],[40.5,0.75],[41.5,0.7],[42.6,0.65],[43.7,0.6],[44.8,0.55],[45.8,0.55],[46.9,0.5],[48,0.55],[49.1,0.5],[50.1,0.4],[51.2,0.45],[52.3,0.3],[53.4,0.5],[54.4,0.55],[55.5,0.4],[56.6,0.35],[57.7,0.3],[58.7,0.2],[59.8,0.1],[60.9,0.2],[62,0.15],[63,0.2],[64.1,0.15],[65.2,0.1],[66.3,0.05],[67.3,0.05],[68.4,0.1],[69.5,0],[70.6,0],[71.6,-0.1],[72.7,-0.2],[73.8,-0.25],[74.9,-0.2],[75.9,-0.25],[77,-0.1],[77.1,null],[77.6,0.3],[79.8,0.32],[79.9,null],[83.5,-0.15],[84.8,-2.2],[85.6,-1.7],[86.7,-1.9],[87.8,-1.85],[88.8,-2.0],[89.9,-2.8],[91,-2.8],[91.6,-2.0],[92.7,-1.9],[93.8,-1.95],[94.9,-2.3],[95.9,-2.8],[96.6,-2.85]]
var spainLiwc = [[11.4,-0.95],[13.2,-0.95],[14.2,-1.05],[15.3,-1.05],[16.4,-0.8],[17.5,-0.6],[18.5,-0.7],[19.6,-0.9],[20.7,-0.95],[21.8,-0.9],[22.8,-0.1],[23.9,-0.05],[25,0],[26.1,0.05],[27.1,-0.05],[28.2,0.05],[29.3,-0.3],[30.4,-0.6],[31.4,-0.3],[32.5,0.5],[33.6,0.8],[34.7,0.7],[35.7,0.6],[36.8,-0.1],[37.5,-0.35],[38.5,0],[39.6,1.15],[40.5,1.15],[41.5,0.3],[42.6,-0.6],[43.7,-0.9],[44.8,-0.5],[45.8,-1.2],[46.5,-2.15],[47.6,-0.5],[48.6,0.8],[49.7,0.7],[50.8,0.7],[51.9,0.6],[52.9,0.6],[54,1.2],[55.1,1.75],[56.2,0.6],[57.2,0.1],[58.3,1.0],[59.4,1.4],[60.5,1.35],[61.5,1.1],[62.6,0.3],[63.7,-0.5],[64.8,-1.45],[65.8,0.4],[66.9,1.5],[68,2.5],[69.1,2.45],[70.1,1.0],[71.2,0.2],[72.3,0.7],[73.4,1.2],[74.4,0.8],[75.5,0.6],[76.6,0.3],[77.7,-0.2],[78.7,-0.5],[79.8,-1.2],[80.9,-1.95],[82,-1.95],[83,-0.8],[84.1,-0.7],[85.2,-0.5],[86.3,0.2],[86.9,2.55],[87.8,1.0],[88.8,-0.2],[89.9,-0.45],[91,-0.1],[92.1,0.05],[93.2,0.3],[94.2,0.6],[95.3,0.7],[95.9,0.5],[97,-2.5]]
var spainFdeath = [[11.4,-2.45],[13.2,-2.45],[14.2,-2.4],[15.3,-2.35],[16.4,-1.6],[17.5,-1.15],[18.5,-1.2],[19.6,-1.45],[20.7,-1.5],[21.8,-1.45],[22.8,-0.4],[23.9,-0.3],[27.1,-0.35],[28.2,-0.3],[29.3,-0.45],[30.4,-0.5],[31.4,-0.1],[32.5,0.8],[33.6,0.75],[34.7,0.5],[35.7,0.35],[36.8,0.2],[37.9,0.25],[39,0.5],[40,0.55],[41.1,0.45],[42.2,0.3],[43.3,0],[44.3,-0.5],[45.4,-0.9],[46.5,-1.2],[47.6,-0.3],[48.6,0.9],[49.7,0.85],[50.8,0.75],[51.9,0.7],[52.9,0.65],[54,0.9],[55.1,1.25],[56.2,0.5],[57.2,-0.05],[58.3,0.5],[59.4,1.1],[61.5,1.1],[62.6,0.5],[63.7,-0.1],[64.8,-0.15],[65.8,0],[66.9,0.7],[68,1.65],[69.1,1.2],[70.1,0.4],[71.2,0.45],[72.3,0.6],[73.4,0.75],[74.4,0.3],[75.5,0.35],[76.6,0.2],[77.7,0],[78.7,-0.2],[79.8,-0.55],[80.9,-0.6],[82,-0.6],[83,-0.5],[84.1,-0.4],[85.2,-0.4],[86.3,0.3],[86.9,1.05],[87.8,0.3],[88.8,-0.4],[89.9,-0.4],[91,0.55],[92.1,0.6],[93.2,1.1],[94.2,1.8],[95.3,1.8],[95.9,1.2],[97,-1.5]]

var ukDeaths = [[11.4,-3.05],[12.5,-3.1],[13.6,-2.8],[14.7,-2.5],[15.7,-2.25],[16.8,-2.1],[17.9,-2.05],[19,-1.5],[20,-1.0],[21.1,-0.7],[22.2,-0.4],[23.3,-0.3],[24.3,-0.2],[25.4,-0.05],[26.5,0.1],[27.6,0.35],[28.6,0.6],[29.7,0.65],[30.8,0.8],[31.9,0.75],[32.9,0.9],[34,1.0],[35.1,1.1],[36.2,1.25],[37.2,1.15],[38.3,1.1],[39.4,1.0],[40.5,0.95],[41.5,1.1],[42.6,1.2],[43.7,1.1],[44.8,0.9],[45.8,0.8],[46.9,0.85],[48,0.95],[49.1,0.9],[50.1,1.0],[51.2,0.9],[52.3,0.75],[53.4,0.65],[54.4,0.6],[55.5,0.7],[56.6,0.85],[57.7,0.75],[58.7,0.6],[59.8,0.4],[60.9,0.45],[62,0.7],[63,0.35],[64.1,0.15],[65.2,0.3],[66.3,0.15],[67.3,-0.2],[68.4,0.35],[69.5,0.3],[70.6,0.05],[71.6,-0.05],[72.7,0.2],[73.8,-0.1],[74.9,-0.3],[75.9,-0.1],[77,0.2],[78.1,0.15],[79.2,-0.1],[80.2,-0.5],[81.3,-0.9],[82.4,-1.05],[83.5,-0.5],[84.5,-0.3],[85.6,0.05],[86.7,-0.4],[87.8,-0.6],[88.8,-0.3],[89.9,0.1],[91,0.25],[92.1,-0.3],[93.2,-0.7],[94.2,-0.9],[95.3,-1.15],[96.4,-0.6],[97.5,-0.4],[98.5,-0.5],[99.6,-0.7],[100.7,-0.65]]
var ukLiwc = [[15.7,-1.65],[16.8,-1.65],[17.9,-1.7],[19,-1.65],[20,-1.7],[21.1,-1.55],[22.2,-1.5],[23.3,-1.3],[24.3,-0.35],[25.4,-0.3],[26.5,-0.3],[27.6,0.2],[28.6,0.6],[29.7,0.7],[30.8,0.7],[31.9,0.5],[32.9,1.05],[34,1.2],[35.1,1.1],[36.2,1.2],[37.2,0.8],[38.3,0.2],[39.4,1.1],[40.5,1.2],[41.5,1.95],[42.6,1.7],[43.7,1.15],[44.8,1.5],[45.8,1.1],[46.9,0.85],[48,0.9],[49.1,1.15],[50.1,1.0],[51.2,0.8],[52.3,0.6],[53.4,0.5],[54.4,0.6],[55.5,0.3],[56.6,0.05],[57.7,-0.1],[58.7,0.3],[59.8,0.55],[60.9,0.5],[62,0.35],[63,0.7],[64.1,0.6],[65.2,0.15],[66.3,0.1],[67.3,0.1],[68.4,0.15],[69.5,0.25],[70.6,0.2],[71.6,0.3],[72.7,0.35],[73.8,0.4],[74.9,0.4],[75.9,0.1],[77,-0.1],[78.1,-0.5],[79.2,-0.7],[80.2,-0.85],[81.3,-0.9],[82.4,-0.85],[83.5,-1.0],[84.5,-1.3],[85.6,-1.8],[86.7,-2.1],[87.8,-2.1],[88.8,-1.0],[89.9,-0.1],[91,0.1],[92.1,-0.2],[93.2,-0.8],[94.2,-0.85],[95.3,-0.9],[96.4,-1.0],[97.5,-1.0],[98.5,-1.1],[99.6,-1.2],[100.7,-1.3],[101.8,-1.35],[102.8,-1.0],[103.9,0.5],[105,-0.3]]
var ukFdeath = [[15.7,-1.6],[16.8,-1.65],[17.9,-1.7],[19,-1.75],[20,-1.6],[21.1,-1.35],[22.2,-1.2],[23.3,0.95],[24.3,0.95],[25.4,0.9],[26.5,0.7],[27.6,0.6],[28.6,0.8],[29.7,1.0],[30.8,1.1],[31.9,1.65],[32.9,1.6],[34,1.55],[35.1,1.5],[36.2,1.0],[37.2,0.7],[38.3,0.9],[39.4,1.2],[40.5,1.2],[41.5,1.15],[42.6,0.8],[43.7,1.8],[44.8,1.7],[45.8,1.0],[46.9,0.9],[48,1.05],[49.1,1.1],[50.1,0.9],[51.2,0.7],[52.3,0.6],[53.4,0.55],[54.4,0.55],[55.5,0.35],[56.6,0.5],[57.7,0.3],[58.7,0.35],[59.8,0.55],[60.9,0.3],[62,0.1],[63,-0.15],[64.1,-0.6],[65.2,0.05],[66.3,0.3],[67.3,0.2],[68.4,0.25],[69.5,0.1],[70.6,0.15],[71.6,0.3],[72.7,0.35],[73.8,0.25],[74.9,0.3],[75.9,0.05],[77,-0.1],[78.1,-0.5],[79.2,-0.75],[80.2,-0.85],[81.3,-0.9],[82.4,-0.85],[83.5,-0.9],[84.5,-1.2],[85.6,-1.5],[86.7,-1.55],[87.8,-1.5],[88.8,-0.9],[89.9,-0.05],[91,0.1],[92.1,-0.1],[93.2,-0.8],[94.2,-0.85],[96.4,-0.9],[97.5,-0.95],[98.5,-1.0],[99.6,-1.1],[100.7,-1.45],[101.8,-1.5],[102.8,-1.4],[103.9,-0.2],[105,-0.6]]

var usDeaths = [[11.6,-3.7],[12.7,-3.3],[13.4,-3.0],[14.2,-3.1],[14.9,-2.6],[15.7,-2.4],[16.6,-2.1],[17.5,-1.9],[18.3,-1.8],[19.2,-1.6],[20.2,-1.3],[21.3,-1.0],[22.4,-0.8],[23.5,-0.6],[24.5,-0.45],[25.6,-0.3],[26.7,-0.1],[27.8,0.05],[28.8,0.2],[29.9,0.3],[31,0.4],[32.1,0.45],[33.2,0.55],[34.2,0.6],[35.3,0.65],[36.4,0.6],[37.5,0.55],[38.5,0.6],[39.6,0.7],[40.7,0.9],[41.8,1.1],[42.8,1.15],[43.9,1.25],[45,1.0],[46.1,0.9],[47.1,1.0],[48.2,0.85],[49.3,0.75],[50.4,0.9],[51.4,0.8],[52.5,0.7],[53.6,0.55],[54.7,0.65],[55.7,0.8],[56.8,0.75],[57.9,0.7],[59,0.5],[60,0.35],[61.1,0.6],[62.2,0.7],[63.3,0.75],[64.3,0.6],[65.4,0.5],[66.5,0.55],[67.6,0.6],[68.6,0.5],[69.7,0.55],[70.8,0.6],[71.9,0.45],[72.9,0.3],[74,0.1],[75.1,0],[76.2,0.25],[77.2,0.3],[78.3,0.35],[79.4,0.2],[80.5,0.05],[81.5,0.1],[82.6,0.25],[83.7,0.15],[84.8,0.3],[85.8,0.1],[86.9,0],[88,-0.1],[89.1,0],[90.1,0.1],[91.2,0.05],[92.3,-0.05],[93.4,-0.15],[94.4,-0.3],[95.5,-0.1],[96.6,-0.05],[97.7,0.05],[98.7,0],[99.8,-0.05],[100.9,-0.05]]
var usLiwc = [[13.8,-2.05],[15.3,-2.05],[16.4,-1.95],[17.5,-2.0],[18.5,-1.6],[20.2,-1.3],[21.3,-1.0],[22.4,-1.0],[23.5,-0.95],[24.5,-0.95],[25.6,-0.85],[26.7,-0.5],[27.8,-0.2],[28.8,0.1],[29.9,0.15],[31,0.2],[32.1,0.5],[33.2,0.8],[34.2,1.0],[35.3,1.05],[36.4,0.9],[37.5,0.7],[38.5,1.2],[39.6,2.25],[40.7,1.4],[41.8,0.7],[42.8,0.4],[43.9,0.6],[45,1.15],[46.1,1.05],[47.1,0.5],[48.2,0.3],[49.3,-0.25],[50.4,-0.2],[51.4,0.05],[52.5,0.4],[53.6,0.35],[54.7,-0.2],[55.7,-0.4],[56.8,0.2],[57.9,0.5],[59,2.4],[59.6,3.65],[60.5,2.0],[61.1,0.8],[62.2,0.75],[63.3,0.8],[64.3,0.7],[65.4,0.5],[66.5,0.4],[67.6,0.15],[68.6,0.2],[69.7,-0.2],[70.8,-0.4],[71.9,-0.55],[72.9,-0.3],[74,0.2],[75.1,1.0],[76.2,0.5],[77.2,-0.1],[78.3,0.1],[79.4,0.25],[80.5,0.35],[81.5,0.1],[82.6,0.2],[83.7,0.5],[84.8,0.8],[85.8,1.1],[86.9,0.6],[88,0.1],[89.1,-0.1],[90.1,-0.3],[91.2,-0.4],[92.3,-0.5],[93.4,-0.55],[94.4,-0.6],[95.5,-0.65],[96.6,-0.75],[97.7,-0.8],[98.7,-0.75],[99.8,-0.9],[100.9,-0.9],[102,-0.95],[103,-1.0]]
var usFdeath = [[14.9,-2.65],[15.7,-2.5],[16.8,-2.3],[17.9,-2.2],[19.2,-2.5],[20.2,-1.5],[21.3,-1.0],[22.4,-0.6],[23.5,-0.3],[24.5,-0.6],[25.6,-0.7],[26.7,-0.7],[27.8,-0.4],[28.8,0.2],[29.9,0.25],[31,0.3],[32.1,0.4],[33.2,0.7],[34.2,1.0],[35.3,1.2],[36.4,1.0],[37.5,0.8],[38.5,1.0],[39.6,1.7],[40.7,0.9],[41.8,0.2],[42.8,0.15],[43.9,0.1],[45,0.8],[46.1,1.05],[47.1,0.85],[48.2,0.5],[49.3,0.3],[50.4,0.1],[51.4,0.3],[52.5,0.5],[53.6,0.6],[54.7,0.35],[55.7,0],[56.8,0.3],[57.9,0.6],[59,1.6],[59.6,2.2],[60.5,1.3],[61.1,0.7],[62.2,0.75],[63.3,0.7],[64.3,0.6],[65.4,0.4],[66.5,0.3],[67.6,0.2],[68.6,0.1],[69.7,-0.1],[70.8,-0.4],[71.9,-0.7],[72.9,-0.3],[74,0.5],[75.1,1.65],[76.2,0.8],[77.2,-0.1],[78.3,-0.05],[79.4,0.3],[80.5,0.2],[81.5,0.1],[82.6,0.4],[83.7,0.9],[84.8,1.5],[85.8,1.3],[86.9,0.8],[88,0.3],[89.1,-0.2],[90.1,-0.4],[91.2,-0.45],[92.3,-0.5],[93.4,-0.6],[94.4,-0.7],[95.5,-0.8],[96.6,-0.9],[97.7,-1.05],[98.7,-1.0],[99.8,-0.95],[100.9,-0.85],[102,-0.9],[103,-0.75]]

var deathSeries = [argentinaDeaths, australiaDeaths, canadaDeaths, chileDeaths, colombiaDeaths, indiaDeaths,
    mexicoDeaths, nigeriaDeaths, southAfricaDeaths, spainDeaths, ukDeaths, usDeaths]
var liwcSeries = [argentinaLiwc, australiaLiwc, canadaLiwc, chileLiwc, colombiaLiwc, indiaLiwc,
    mexicoLiwc, nigeriaLiwc, southAfricaLiwc, spainLiwc, ukLiwc, usLiwc]
var fdeathSeries = [argentinaFdeath, australiaFdeath, canadaFdeath, chileFdeath, colombiaFdeath, indiaFdeath,
    mexicoFdeath, nigeriaFdeath, southAfricaFdeath, spainFdeath, ukFdeath, usFdeath]

// layout
var colX = [17, 198.5, 380, 562]
var rowY = [27, 228.5, 430]
var W = 145, H = 145
var lineStyles = [
    {color: "#1f77b4", width: 2.6},
    {color: "#ff7f0e", width: 1.5},
    {color: "#2ca02c", width: 1.5}
]

var svg = d3.select("#chart")
var toDate = function(day) { return new Date(Date.UTC(2020, 2, 1) + day * 864e5) }
var fmtNum = function(v) { return v < 0 ? "\u2212" + Math.abs(v) : String(v) }

countries.forEach(function(name, i) {
    var g = svg.append("g")
        .attr("transform", "translate(" + colX[i % 4] + "," + rowY[Math.floor(i / 4)] + ")")
    var series = [deathSeries[i], liwcSeries[i], fdeathSeries[i]]

    var vals = []
    series.forEach(function(s) {
        s.forEach(function(d) { if (d[1] != null) vals.push(d[1]) })
    })
    var ext = d3.extent(vals)
    var pad = (ext[1] - ext[0]) * 0.05
    var y = d3.scaleLinear().domain([ext[0] - pad, ext[1] + pad]).range([H, 0])
    var x = d3.scaleUtc().domain([toDate(xStartDay), toDate(xEndDay)]).range([0, W])

    var yTicks = d3.range(Math.ceil(y.domain()[0]), Math.floor(y.domain()[1]) + 1)
    var months = d3.utcMonth.range(x.domain()[0], x.domain()[1])
    var weeks = d3.utcMonday.range(x.domain()[0], x.domain()[1]).filter(function(d) {
        return d.getUTCDate() !== 1
    })

    // grid
    g.append("g").selectAll("line").data(yTicks).enter().append("line")
        .attr("x1", 0).attr("x2", W)
        .attr("y1", function(d) { return y(d) }).attr("y2", function(d) { return y(d) })
        .attr("stroke", "#b0b0b0").attr("stroke-width", 0.8)
    g.append("g").selectAll("line").data(months).enter().append("line")
        .attr("y1", 0).attr("y2", H)
        .attr("x1", function(d) { return x(d) }).attr("x2", function(d) { return x(d) })
        .attr("stroke", "#b0b0b0").attr("stroke-width", 0.8)

    g.append("clipPath").attr("id", "clip" + i)
        .append("rect").attr("width", W).attr("height", H)

    var line = d3.line()
        .defined(function(d) { return d[1] != null })
        .x(function(d) { return x(toDate(d[0])) })
        .y(function(d) { return y(d[1]) })

    var lg = g.append("g").attr("clip-path", "url(#clip" + i + ")")
    series.forEach(function(s, k) {
        lg.append("path")
            .datum(s)
            .attr("d", line)
            .attr("fill", "none")
            .attr("stroke", lineStyles[k].color)
            .attr("stroke-width", lineStyles[k].width)
            .attr("stroke-linejoin", "round")
            .attr("opacity", 0.85)
    })

    // spines
    g.append("rect").attr("width", W).attr("height", H)
        .attr("fill", "none").attr("stroke", "#000").attr("stroke-width", 0.8)

    // axes
    var yAxis = g.append("g")
        .call(d3.axisLeft(y).tickValues(yTicks).tickSize(3).tickPadding(3).tickFormat(fmtNum))
    var xAxis = g.append("g").attr("transform", "translate(0," + H + ")")
        .call(d3.axisBottom(x).tickValues(months).tickSize(3).tickPadding(2).tickFormat(d3.utcFormat("%b")))
    var xMinor = g.append("g").attr("transform", "translate(0," + H + ")")
        .call(d3.axisBottom(x).tickValues(weeks).tickSize(1.8).tickFormat(""))
    ;[yAxis, xAxis, xMinor].forEach(function(a) {
        a.attr("font-family", null).attr("font-size", 8)
        a.select(".domain").remove()
        a.selectAll("line").attr("stroke", "#000").attr("stroke-width", 0.8)
        a.selectAll("text").attr("fill", "#000")
    })
    xAxis.selectAll(".tick text").each(function(d) {
        if (d.getUTCMonth() === 3) {
            d3.select(this).append("tspan").attr("x", 0).attr("dy", "1.12em").text(d3.utcFormat("%Y")(d))
        }
    })

    // two-line title
    var title = g.append("text").attr("y", -17).attr("text-anchor", "middle").attr("font-size", 12)
    title.append("tspan").attr("x", W / 2).text(name)
    title.append("tspan").attr("x", W / 2).attr("dy", 12.5).text(corrLabels[i])
})

// legend
var legend = svg.append("g").attr("transform", "translate(228,611)")
legend.append("rect").attr("width", 452).attr("height", 22).attr("rx", 3)
    .attr("fill", "#fff").attr("stroke", "#cccccc").attr("stroke-width", 0.8)
var legendX = [8, 219, 337]
lineStyles.forEach(function(s, k) {
    legend.append("line").attr("x1", legendX[k]).attr("x2", legendX[k] + 32).attr("y1", 11).attr("y2", 11)
        .attr("stroke", s.color).attr("stroke-width", s.width).attr("opacity", 0.85)
})
legend.append("text").attr("x", legendX[0] + 40).attr("y", 15).attr("font-size", 12).text("Daily deaths")
var q = legend.append("text").attr("x", legendX[1] + 40).attr("y", 15).attr("font-size", 12)
q.append("tspan").attr("font-style", "italic").text("Q")
q.append("tspan").attr("font-style", "italic").attr("font-size", 8).attr("dy", 2.5).text("LIWC")
var f = legend.append("text").attr("x", legendX[2] + 40).attr("y", 15).attr("font-size", 12)
f.append("tspan").attr("font-style", "italic").text("f\u0302")
f.append("tspan").attr("font-style", "italic").attr("font-size", 8).attr("dy", 2.5).text("Death")
</script>
</body>
</html>
